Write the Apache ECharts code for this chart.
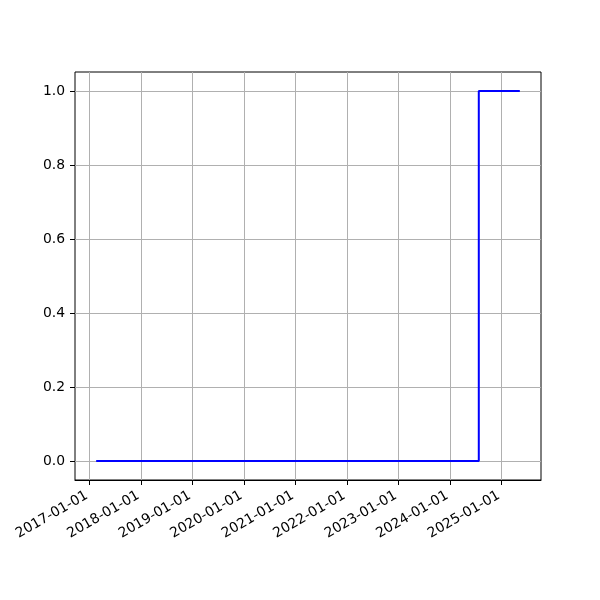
<!DOCTYPE html>
<html>
<head>
<meta charset="utf-8">
<script src="https://cdn.jsdelivr.net/npm/echarts@6/dist/echarts.min.js"></script>
<style>html,body{margin:0;padding:0;background:#fff}#c{width:600px;height:600px}</style>
</head>
<body>
<div id="c"></div>
<script>
// Data
var dates = ['2017-02-17', '2024-07-24', '2025-05-11'];
var values = [0, 1, 1];
var xTickLabels = ['2017-01-01','2018-01-01','2019-01-01','2020-01-01','2021-01-01','2022-01-01','2023-01-01','2024-01-01','2025-01-01'];
var yTicks = [0.0, 0.2, 0.4, 0.6, 0.8, 1.0];

var ts = dates.map(function (d) { return Date.parse(d + 'T00:00:00Z'); });
var xTicks = xTickLabels.map(function (d) { return Date.parse(d + 'T00:00:00Z'); });
var span = ts[ts.length - 1] - ts[0];
var xMin = ts[0] - span * 0.05, xMax = ts[ts.length - 1] + span * 0.05;
var font = 'DejaVu Sans';
var fs = 13.9;

var chart = echarts.init(document.getElementById('c'), null, {renderer: 'canvas'});
chart.setOption({
  animation: false,
  backgroundColor: '#fff',
  grid: [
    {left: 75, right: 59, top: 72, bottom: 120, show: true, borderColor: '#000', borderWidth: 1, backgroundColor: 'transparent', containLabel: false},
    {left: 75, right: 59, top: 91, bottom: 139, containLabel: false}
  ],
  xAxis: [
    {
      type: 'value', gridIndex: 0, min: xMin, max: xMax,
      axisLine: {show: true, lineStyle: {color: '#000', width: 1}},
      axisTick: {show: true, inside: false, length: 5, customValues: xTicks, lineStyle: {color: '#000', width: 1}},
      axisLabel: {
        show: true, rotate: 30, margin: 13, customValues: xTicks,
        color: '#000', fontFamily: font, fontSize: fs, padding: [0, 3, 0, 0],
        formatter: function (v) { return new Date(v).toISOString().slice(0, 10); }
      },
      splitLine: {show: true, lineStyle: {color: '#b0b0b0', width: 1}}
    },
    {
      type: 'value', gridIndex: 1, min: xMin, max: xMax, show: false,
      splitLine: {show: false}
    }
  ],
  yAxis: [
    {type: 'value', gridIndex: 0, min: 0, max: 1, show: false, splitLine: {show: false}},
    {
      type: 'value', gridIndex: 1, min: yTicks[0], max: yTicks[yTicks.length - 1], interval: 0.2,
      axisLine: {show: false},
      axisTick: {show: true, inside: false, length: 5, lineStyle: {color: '#000', width: 1}},
      axisLabel: {color: '#000', fontFamily: font, fontSize: fs, margin: 10,
        formatter: function (v) { return v.toFixed(1); }},
      splitLine: {show: true, lineStyle: {color: '#b0b0b0', width: 1}}
    }
  ],
  series: [{
    type: 'line', xAxisIndex: 1, yAxisIndex: 1, step: 'end', showSymbol: false, symbol: 'none',
    lineStyle: {color: '#0000ff', width: 2},
    data: ts.map(function (t, i) { return [t, values[i]]; })
  }]
});
</script>
</body>
</html>
